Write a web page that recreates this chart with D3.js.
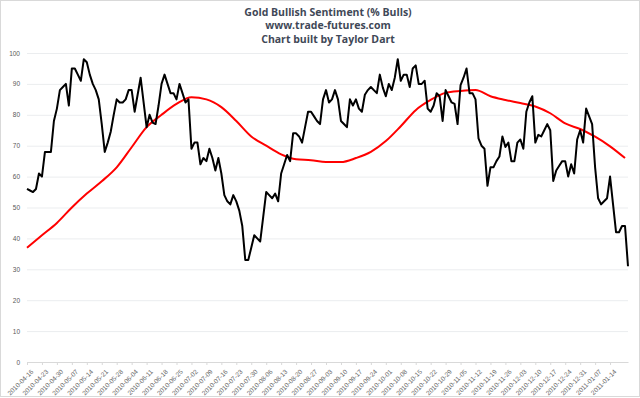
<!DOCTYPE html>
<html>
<head>
<meta charset="utf-8">
<script src="https://cdn.jsdelivr.net/npm/d3@7"></script>
<style>
  body { margin: 0; background: #fff; }
  svg { display: block; font-family: "Open Sans", "Liberation Sans", sans-serif; }
</style>
</head>
<body>
<script>
// weekly labels, one every 5 trading days
let tickLabels = ["2010-04-16","2010-04-23","2010-04-30","2010-05-07","2010-05-14","2010-05-21","2010-05-28",
  "2010-06-04","2010-06-11","2010-06-18","2010-06-25","2010-07-02","2010-07-09","2010-07-16","2010-07-23",
  "2010-07-30","2010-08-06","2010-08-13","2010-08-20","2010-08-27","2010-09-03","2010-09-10","2010-09-17",
  "2010-09-24","2010-10-01","2010-10-08","2010-10-15","2010-10-22","2010-10-29","2010-11-05","2010-11-12",
  "2010-11-19","2010-11-26","2010-12-03","2010-12-10","2010-12-17","2010-12-24","2010-12-31","2011-01-07",
  "2011-01-14"];

// daily % bulls (black)
let bulls = [
  56,55.5,55,56,61,60,68,68,68,78,
  82,88,89,90,83,95,95,93,91,98,
  97,93,90,88,85,77,68,71,74.5,80,
  85,84,84,85,88,88,81,86.5,92,84,
  76,80,77.5,77,83,90,93,90,87,87,
  85,90,87,84,85,69,71,71,64,66,
  65,69,66,62,66,61,54,52,51,54,
  52,49,44,33,33,37,41,40,39,47,
  55,54,53,54.5,52,61,64,67,65,74,
  74,73,71,76,81,81,79.5,78,77,85,
  88,84,85,88,85,78,77,76,85,83,
  85,82,81,86.5,88,89,88,87,93,88.8,
  86,90,88,92,98,91,93,93,89,95,
  96,90,90,91,82,81,83,87,86,78,
  88,86,84,83.5,77,89.6,92,95,87,87,
  85,72.4,70,69,57,63,63,65,66.5,73,
  69.6,71,65,65,71,72,69,81,84,86,
  71,73.5,73,75,77,75,58.6,62,63.5,65,
  65,60,64,61,72,75,71,82,79.5,77,
  63,53,51,52,53,60,51,42,42,44,
  44,31
];

// moving average (red), read every 5 trading days
let avgIdx = d3.range(0, 201, 5);
let avgVals = [37,41,45,50,54.5,58.5,63,69.5,76,80,
  83.5,85.7,85,82.5,78,73,70,67.2,65.6,65.3,
  64.7,64.7,66,68,71.5,76.3,81.5,84.8,87.1,87.7,
  88,86,84.8,83.8,82.7,80.5,77.2,75.4,72.9,69.8,
  66];

let yTicks = d3.range(0, 101, 10);

let width = 640, height = 398;
let plot = { left: 27, right: 628, top: 53, bottom: 362 };

let svg = d3.select("body").append("svg")
    .attr("width", width)
    .attr("height", height);

svg.append("rect")
    .attr("x", 0.5).attr("y", 0.5)
    .attr("width", width - 1).attr("height", 396)
    .attr("fill", "#fff")
    .attr("stroke", "#d9d9d9");

let x = d3.scaleLinear()
    .domain([0, bulls.length - 1])
    .range([plot.left, plot.right]);

let y = d3.scaleLinear()
    .domain([0, 100])
    .range([plot.bottom, plot.top]);

// title
let title = ["Gold Bullish Sentiment (% Bulls)", "www.trade-futures.com", "Chart built by Taylor Dart"];
svg.append("g").selectAll("text")
    .data(title)
    .enter().append("text")
    .attr("x", 328)
    .attr("y", (d, i) => 15.5 + i * 13.5)
    .attr("text-anchor", "middle")
    .attr("font-size", 10.5)
    .attr("font-weight", "bold")
    .attr("fill", "#3f4857")
    .text(d => d);

// gridlines + y labels
let yAxis = d3.axisLeft(y)
    .tickValues(yTicks)
    .tickSize(-(plot.right - plot.left))
    .tickPadding(7);

let gy = svg.append("g")
    .attr("transform", "translate(" + plot.left + ",0)")
    .call(yAxis);
gy.select(".domain").remove();
gy.selectAll(".tick line")
    .attr("stroke", d => d === 0 ? "#d9d9d9" : "#ebedef");
gy.selectAll(".tick text")
    .attr("font-size", 6.5)
    .attr("fill", "#595959");

// x axis
let xAxis = d3.axisBottom(x)
    .tickValues(tickLabels.map((d, i) => i * 5))
    .tickFormat((d, i) => tickLabels[i])
    .tickSize(3)
    .tickSizeOuter(0);

let gx = svg.append("g")
    .attr("transform", "translate(0," + plot.bottom + ")")
    .call(xAxis);
gx.select(".domain").attr("stroke", "#d9d9d9");
gx.selectAll(".tick line").attr("stroke", "#d9d9d9");
gx.selectAll(".tick text")
    .attr("font-size", 6.5)
    .attr("fill", "#666")
    .attr("text-anchor", "end")
    .attr("dx", 0)
    .attr("dy", 0)
    .attr("transform", "translate(2,6) rotate(-45)");

// lines
let line = d3.line()
    .x((d, i) => x(i))
    .y(d => y(d));

svg.append("path")
    .datum(avgVals)
    .attr("fill", "none")
    .attr("stroke", "#ff0000")
    .attr("stroke-width", 2)
    .attr("stroke-linejoin", "round")
    .attr("d", d3.line().curve(d3.curveMonotoneX).x((d, i) => x(avgIdx[i])).y(d => y(d)));

svg.append("path")
    .datum(bulls)
    .attr("fill", "none")
    .attr("stroke", "#000")
    .attr("stroke-width", 2)
    .attr("stroke-linejoin", "round")
    .attr("d", line);
</script>
</body>
</html>
